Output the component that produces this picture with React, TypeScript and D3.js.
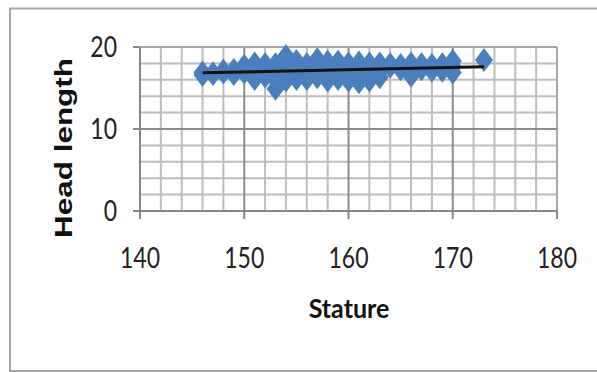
import React, { useEffect, useRef } from 'react';
import * as d3 from 'd3';

// stature (x) and head length (y) pairs
const stature = [
  146, 146, 147, 147, 148, 148, 148, 149, 149, 150, 150, 150,
  151, 151, 151, 152, 152, 152, 153, 153, 153, 153, 154, 154, 154, 154,
  155, 155, 155, 156, 156, 156, 157, 157, 157, 158, 158, 158,
  159, 159, 159, 160, 160, 160, 161, 161, 161, 162, 162, 162,
  163, 163, 163, 164, 164, 165, 165, 166, 166, 166, 167, 167,
  168, 168, 169, 169, 170, 170, 170, 173,
];
const headLength = [
  16.6, 16.9, 16.8, 16.7, 17.1, 17.0, 16.9, 17.2, 16.7, 17.7, 16.9, 17.2,
  18.0, 16.1, 17.0, 17.9, 16.4, 17.2, 17.9, 14.9, 16.0, 17.0, 18.9, 15.9, 17.0, 18.0,
  18.3, 16.1, 17.2, 17.9, 16.1, 17.0, 18.5, 16.3, 17.5, 18.2, 15.9, 17.0,
  18.2, 16.1, 17.2, 18.0, 15.9, 17.0, 18.1, 15.7, 17.0, 18.0, 15.9, 16.9,
  18.0, 16.3, 17.2, 17.9, 17.6, 17.8, 17.3, 18.0, 16.5, 17.2, 17.9, 17.3,
  17.8, 17.1, 17.9, 17.1, 18.3, 16.9, 17.6, 18.4,
];

// linear trendline, read at its two ends
const trendStature = [146, 173];
const trendHead = [16.85, 17.6];

const xTicks = [140, 150, 160, 170, 180];
const yTicks = [0, 10, 20];

const App = () => {
  const svgRef = useRef<SVGSVGElement>(null);

  useEffect(() => {
    const svg = d3.select(svgRef.current);
    svg.selectAll('*').remove();

    const x = d3.scaleLinear().domain([140, 180]).range([140, 557]);
    const y = d3.scaleLinear().domain([0, 20]).range([211, 47]);

    // outer chart frame
    svg.append('rect')
      .attr('x', 10).attr('y', 8.5)
      .attr('width', 620).attr('height', 362.5)
      .attr('fill', 'white')
      .attr('stroke', '#a6a6a6')
      .attr('stroke-width', 2);

    const g = svg.append('g');

    // minor grid every 2 units
    const minorX = d3.range(142, 180, 2).filter(v => v % 10 !== 0);
    const minorY = d3.range(2, 20, 2).filter(v => v % 10 !== 0);

    g.selectAll('.mx').data(minorX).enter().append('line')
      .attr('x1', d => x(d)).attr('x2', d => x(d))
      .attr('y1', y(0)).attr('y2', y(20))
      .attr('stroke', '#bcbcbc').attr('stroke-width', 2);

    g.selectAll('.my').data(minorY).enter().append('line')
      .attr('x1', x(140)).attr('x2', x(180))
      .attr('y1', d => y(d)).attr('y2', d => y(d))
      .attr('stroke', '#bcbcbc').attr('stroke-width', 2);

    // major grid
    g.selectAll('.Mx').data([150, 160, 170, 180]).enter().append('line')
      .attr('x1', d => x(d)).attr('x2', d => x(d))
      .attr('y1', y(0)).attr('y2', y(20))
      .attr('stroke', d => (d === 180 ? '#a8a8a8' : '#8c8c8c')).attr('stroke-width', 2);

    g.selectAll('.My').data([10, 20]).enter().append('line')
      .attr('x1', x(140)).attr('x2', x(180))
      .attr('y1', d => y(d)).attr('y2', d => y(d))
      .attr('stroke', d => (d === 20 ? '#a8a8a8' : '#8c8c8c')).attr('stroke-width', 2);

    // axes with tick marks
    g.append('line')
      .attr('x1', x(140)).attr('x2', x(180))
      .attr('y1', y(0)).attr('y2', y(0))
      .attr('stroke', '#868686').attr('stroke-width', 2);
    g.append('line')
      .attr('x1', x(140)).attr('x2', x(140))
      .attr('y1', y(0)).attr('y2', y(20))
      .attr('stroke', '#868686').attr('stroke-width', 2);

    g.selectAll('.xt').data(xTicks).enter().append('line')
      .attr('x1', d => x(d)).attr('x2', d => x(d))
      .attr('y1', y(0)).attr('y2', y(0) + 8)
      .attr('stroke', '#868686').attr('stroke-width', 2);
    g.selectAll('.yt').data(yTicks).enter().append('line')
      .attr('x1', x(140) - 7).attr('x2', x(140))
      .attr('y1', d => y(d)).attr('y2', d => y(d))
      .attr('stroke', '#868686').attr('stroke-width', 2);

    // tick labels
    g.selectAll('.xl').data(xTicks).enter().append('text')
      .attr('transform', d => `translate(${x(d)},${y(0) + 57}) scale(1,1.25)`)
      .attr('text-anchor', 'middle')
      .attr('font-family', 'Lato, "Open Sans", sans-serif')
      .attr('font-size', 23)
      .attr('fill', '#222')
      .text(d => d);

    g.selectAll('.yl').data(yTicks).enter().append('text')
      .attr('transform', d => `translate(${x(140) - 23},${y(d) + 10}) scale(1,1.25)`)
      .attr('text-anchor', 'end')
      .attr('font-family', 'Lato, "Open Sans", sans-serif')
      .attr('font-size', 23)
      .attr('fill', '#222')
      .text(d => d);

    // points
    const points = stature.map((s, i) => ({ s, h: headLength[i] }));
    g.selectAll('.pt').data(points).enter().append('path')
      .attr('d', 'M0,-12L9,0L0,12L-9,0Z')
      .attr('transform', d => `translate(${x(d.s)},${y(d.h)})`)
      .attr('fill', '#4a7ebf');

    // trendline
    const line = d3.line<number>()
      .x(d => x(d))
      .y((d, i) => y(trendHead[i]));
    g.append('path')
      .datum(trendStature)
      .attr('d', line)
      .attr('fill', 'none')
      .attr('stroke', '#111')
      .attr('stroke-width', 3);

    // axis titles
    svg.append('text')
      .attr('transform', `translate(349,318) scale(1,1.1)`)
      .attr('text-anchor', 'middle')
      .attr('font-family', 'Lato, "Open Sans", sans-serif')
      .attr('font-weight', 'bold')
      .attr('font-size', 25)
      .attr('fill', '#111')
      .text('Stature');

    svg.append('text')
      .attr('transform', 'translate(72,148) rotate(-90)')
      .attr('text-anchor', 'middle')
      .attr('font-family', '"Liberation Sans", Arial, sans-serif')
      .attr('font-weight', 'bold')
      .attr('font-size', 23)
      .attr('textLength', 180)
      .attr('lengthAdjust', 'spacingAndGlyphs')
      .attr('fill', '#111')
      .text('Head length');
  }, []);

  return (
    <svg
      ref={svgRef}
      width="597"
      height="372"
      style={{ position: 'absolute', left: 0, top: 0, background: 'white' }}
    ></svg>
  );
};

export default App;
